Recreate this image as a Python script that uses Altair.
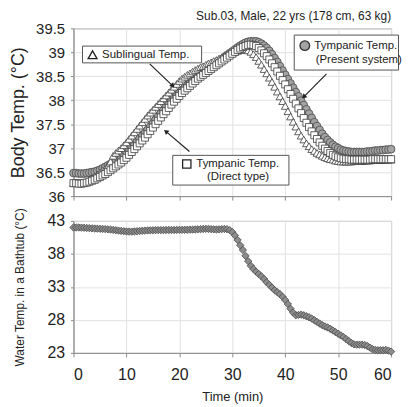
import altair as alt
import pandas as pd

FONT = "Liberation Sans"

# sampling grid (min)
time_min = [i * 0.5 for i in range(121)]

# Tympanic Temp. (Present system) - circles
present_system = [
    36.48, 36.48, 36.47, 36.47, 36.47, 36.48, 36.49, 36.50, 36.51, 36.53,
    36.55, 36.58, 36.61, 36.64, 36.67, 36.70, 36.74, 36.78, 36.83, 36.88,
    36.93, 36.98, 37.03, 37.08, 37.14, 37.20, 37.26, 37.32, 37.38, 37.45,
    37.52, 37.59, 37.66, 37.73, 37.80, 37.87, 37.94, 38.00, 38.06, 38.11,
    38.16, 38.21, 38.26, 38.31, 38.36, 38.41, 38.45, 38.49, 38.53, 38.57,
    38.61, 38.65, 38.69, 38.73, 38.77, 38.81, 38.85, 38.90, 38.94, 38.98,
    39.02, 39.06, 39.10, 39.14, 39.17, 39.20, 39.22, 39.23, 39.23, 39.23,
    39.21, 39.18, 39.14, 39.09, 39.03, 38.96, 38.88, 38.80, 38.71, 38.62,
    38.53, 38.44, 38.35, 38.26, 38.17, 38.08, 37.99, 37.90, 37.81, 37.72,
    37.63, 37.54, 37.46, 37.38, 37.30, 37.23, 37.17, 37.12, 37.07, 37.03,
    37.00, 36.97, 36.95, 36.94, 36.93, 36.92, 36.92, 36.92, 36.92, 36.92,
    36.92, 36.93, 36.93, 36.94, 36.95, 36.95, 36.96, 36.96, 36.97, 36.97,
    36.98,
]

# Sublingual Temp. - triangles
sublingual = [
    36.27, 36.27, 36.27, 36.28, 36.29, 36.31, 36.34, 36.37, 36.41, 36.45,
    36.49, 36.53, 36.57, 36.62, 36.72, 36.84, 36.90, 36.95, 37.00, 37.06,
    37.12, 37.19, 37.26, 37.33, 37.40, 37.47, 37.54, 37.61, 37.68, 37.74,
    37.80, 37.86, 37.92, 37.98, 38.04, 38.10, 38.16, 38.22, 38.28, 38.34,
    38.40, 38.45, 38.49, 38.53, 38.56, 38.60, 38.63, 38.66, 38.69, 38.71,
    38.74, 38.77, 38.79, 38.82, 38.84, 38.87, 38.89, 38.92, 38.94, 38.96,
    38.98, 39.01, 39.03, 39.05, 39.06, 39.06, 39.04, 39.01, 38.96, 38.90,
    38.82, 38.74, 38.65, 38.56, 38.47, 38.38, 38.28, 38.18, 38.08, 37.98,
    37.88, 37.77, 37.66, 37.55, 37.45, 37.35, 37.26, 37.18, 37.10, 37.04,
    36.98, 36.94, 36.90, 36.87, 36.84, 36.81, 36.79, 36.77, 36.76, 36.74,
    36.73, 36.72, 36.72, 36.72, 36.72, 36.72, 36.73, 36.73, 36.73, 36.73,
    36.74, 36.74, 36.74, 36.75, 36.75, 36.75, 36.75, 36.76, 36.76, 36.76,
    36.76,
]

# Tympanic Temp. (Direct type) - squares
direct_type = [
    36.27, 36.27, 36.26, 36.26, 36.27, 36.28, 36.30, 36.32, 36.34, 36.37,
    36.40, 36.43, 36.46, 36.50, 36.54, 36.58, 36.62, 36.66, 36.70, 36.75,
    36.80, 36.86, 36.92, 36.98, 37.04, 37.10, 37.16, 37.22, 37.29, 37.36,
    37.43, 37.50, 37.57, 37.64, 37.71, 37.77, 37.84, 37.91, 37.97, 38.03,
    38.09, 38.15, 38.20, 38.25, 38.30, 38.35, 38.40, 38.45, 38.49, 38.53,
    38.57, 38.61, 38.65, 38.69, 38.73, 38.77, 38.81, 38.85, 38.89, 38.93,
    38.97, 39.01, 39.05, 39.08, 39.11, 39.13, 39.15, 39.16, 39.15, 39.13,
    39.09, 39.04, 38.98, 38.92, 38.85, 38.77, 38.69, 38.60, 38.51, 38.42,
    38.33, 38.23, 38.13, 38.03, 37.93, 37.83, 37.73, 37.63, 37.53, 37.44,
    37.35, 37.27, 37.19, 37.12, 37.05, 36.99, 36.94, 36.90, 36.86, 36.83,
    36.81, 36.79, 36.78, 36.77, 36.77, 36.76, 36.76, 36.76, 36.76, 36.76,
    36.76, 36.76, 36.76, 36.77, 36.77, 36.77, 36.77, 36.77, 36.77, 36.77,
    36.77,
]

# Water temperature in the bathtub - diamonds
water_temp = [
    42.00, 42.00, 42.00, 41.98, 41.96, 41.93, 41.90, 41.87, 41.84, 41.82,
    41.80, 41.78, 41.75, 41.72, 41.68, 41.63, 41.58, 41.53, 41.48, 41.44,
    41.40, 41.38, 41.38, 41.40, 41.43, 41.47, 41.50, 41.53, 41.55, 41.57,
    41.58, 41.60, 41.60, 41.61, 41.61, 41.62, 41.62, 41.62, 41.62, 41.63,
    41.63, 41.64, 41.65, 41.66, 41.67, 41.68, 41.70, 41.72, 41.75, 41.78,
    41.80, 41.78, 41.75, 41.72, 41.70, 41.72, 41.75, 41.78, 41.75, 41.60,
    41.30, 40.80, 40.10, 39.30, 38.60, 37.70, 36.90, 36.20, 35.70, 35.30,
    34.95, 34.60, 34.20, 33.70, 33.30, 32.90, 32.50, 32.20, 31.90, 31.50,
    31.00, 30.40, 29.70, 29.10, 28.70, 28.75, 28.80, 28.70, 28.55, 28.40,
    28.20, 27.95, 27.70, 27.45, 27.20, 27.00, 26.85, 26.65, 26.40, 26.15,
    25.90, 25.65, 25.40, 25.10, 24.80, 24.50, 24.30, 24.25, 24.25, 24.25,
    24.20, 24.05, 23.80, 23.55, 23.45, 23.40, 23.40, 23.40, 23.45, 23.35,
    23.20,
]

body_ticks = [36, 36.5, 37, 37.5, 38, 38.5, 39, 39.5]
water_ticks = [23, 28, 33, 38, 43]
time_ticks = [0, 10, 20, 30, 40, 50, 60]

subtitle = "Sub.03, Male, 22 yrs (178 cm, 63 kg)"

# annotation boxes (in data units: time, °C)
box_t = [1.7, 18.75, 41.7]
box_t2 = [24.2, 40.7, 61.4]
box_v = [39.13, 36.85, 39.36]
box_v2 = [38.78, 36.23, 38.63]

label_left_text = ["Sublingual Temp.", "Tympanic Temp.", "Tympanic Temp."]
label_left_t = [5.4, 23.2, 45.5]
label_left_v = [38.95, 36.67, 39.14]

label_center_text = ["(Direct type)", "(Present system)"]
label_center_t = [31.1, 53.9]
label_center_v = [36.40, 38.83]

sym_t = [3.6, 21.4, 43.7]
sym_v = [38.95, 36.67, 39.14]

arrow_t = [14.4, 21.9, 47.8]
arrow_v = [38.76, 36.93, 38.55]
arrow_t2 = [18.75, 17.45, 43.5]
arrow_v2 = [38.30, 37.35, 38.07]
arrow_angle = [136, 310, 225]

# ---------------- data frames ----------------
df_present = pd.DataFrame({"t": time_min, "v": present_system})
df_subl = pd.DataFrame({"t": time_min, "v": sublingual})
df_direct = pd.DataFrame({"t": time_min, "v": direct_type})
df_water = pd.DataFrame({"t": time_min, "v": water_temp})
df_box = pd.DataFrame({"t": box_t, "t2": box_t2, "v": box_v, "v2": box_v2})
df_lab_l = pd.DataFrame({"t": label_left_t, "v": label_left_v, "txt": label_left_text})
df_lab_c = pd.DataFrame({"t": label_center_t, "v": label_center_v, "txt": label_center_text})
df_arrow = pd.DataFrame({"t": arrow_t, "v": arrow_v, "t2": arrow_t2, "v2": arrow_v2, "ang": arrow_angle})
df_tip = pd.DataFrame({"t": arrow_t2, "v": arrow_v2, "ang": arrow_angle})
df_sym_tri = pd.DataFrame({"t": sym_t[:1], "v": sym_v[:1]})
df_sym_sq = pd.DataFrame({"t": sym_t[1:2], "v": sym_v[1:2]})
df_sym_ci = pd.DataFrame({"t": sym_t[2:], "v": sym_v[2:]})

# ---------------- encodings ----------------
X_TOP = alt.X("t:Q", scale=alt.Scale(domain=[0, 60], nice=False),
              axis=alt.Axis(values=time_ticks, labels=False, title=None,
                            tickSize=4, grid=True))
Y_TOP = alt.Y("v:Q", scale=alt.Scale(domain=[36, 39.5], nice=False, zero=False),
              axis=alt.Axis(values=body_ticks, labelExpr="'' + datum.value",
                            title="Body Temp. (°C)", titleFontSize=18,
                            labelFontSize=15, tickSize=3, labelPadding=6,
                            titlePadding=8, grid=True))

X_BOT = alt.X("t:Q", scale=alt.Scale(domain=[0, 60], nice=False),
              axis=alt.Axis(values=time_ticks, title="Time (min)", titleFontSize=13,
                            labelFontSize=16, tickSize=4, labelPadding=10,
                            titlePadding=8, grid=True))
Y_BOT = alt.Y("v:Q", scale=alt.Scale(domain=[23, 43], nice=False, zero=False),
              axis=alt.Axis(values=water_ticks, title="Water Temp. in a Bathtub (°C)",
                            titleFontSize=12, labelFontSize=16, tickSize=3,
                            labelPadding=6, titlePadding=21, grid=True))

ANN_SIZE = 11.5

# ---------------- top panel ----------------
circles = alt.Chart(df_present).mark_point(
    shape="circle", filled=True, fill="#a3a3a3", stroke="#4a4a4a",
    strokeWidth=0.8, size=62, opacity=1).encode(x=X_TOP, y=Y_TOP)
triangles = alt.Chart(df_subl).mark_point(
    shape="triangle-up", filled=True, fill="white", stroke="#3a3a3a",
    strokeWidth=0.8, size=60, opacity=1).encode(x=X_TOP, y=Y_TOP)
squares = alt.Chart(df_direct).mark_point(
    shape="square", filled=True, fill="white", stroke="#3a3a3a",
    strokeWidth=0.8, size=50, opacity=1).encode(x=X_TOP, y=Y_TOP)

boxes = alt.Chart(df_box).mark_rect(
    fill="white", stroke="#555555", strokeWidth=1, clip=False).encode(
    x=X_TOP, x2="t2:Q", y=Y_TOP, y2="v2:Q")
lab_l = alt.Chart(df_lab_l).mark_text(
    align="left", baseline="middle", font=FONT, fontSize=ANN_SIZE, color="#222222",
    clip=False).encode(x=X_TOP, y=Y_TOP, text="txt:N")
lab_c = alt.Chart(df_lab_c).mark_text(
    align="center", baseline="middle", font=FONT, fontSize=ANN_SIZE, color="#222222",
    clip=False).encode(x=X_TOP, y=Y_TOP, text="txt:N")
sym_tri = alt.Chart(df_sym_tri).mark_point(
    shape="triangle-up", filled=True, fill="white", stroke="#222222",
    strokeWidth=1.3, size=80, opacity=1).encode(x=X_TOP, y=Y_TOP)
sym_sq = alt.Chart(df_sym_sq).mark_point(
    shape="square", filled=True, fill="white", stroke="#222222",
    strokeWidth=1.3, size=70, opacity=1).encode(x=X_TOP, y=Y_TOP)
sym_ci = alt.Chart(df_sym_ci).mark_point(
    shape="circle", filled=True, fill="#a3a3a3", stroke="#333333",
    strokeWidth=1.3, size=95, opacity=1).encode(x=X_TOP, y=Y_TOP)
arrows = alt.Chart(df_arrow).mark_rule(color="#222222", strokeWidth=1.2).encode(
    x=X_TOP, x2="t2:Q", y=Y_TOP, y2="v2:Q")
tips = alt.Chart(df_tip).mark_point(
    shape="triangle-up", filled=True, color="#222222", size=30, opacity=1).encode(
    x=X_TOP, y=Y_TOP, angle=alt.Angle("ang:Q", scale=None))

top = alt.layer(circles, triangles, squares, arrows, tips, boxes, lab_l, lab_c,
                sym_tri, sym_sq, sym_ci).properties(
    width=320, height=169,
    title=alt.TitleParams(text=subtitle, anchor="end", frame="group", fontSize=12,
                          fontWeight="normal", font=FONT, color="#222222", offset=-2))

# ---------------- bottom panel ----------------
diamonds = alt.Chart(df_water).mark_point(
    shape="diamond", filled=True, fill="#8c8c8c", stroke="#4a4a4a",
    strokeWidth=0.8, size=55, opacity=1).encode(x=X_BOT, y=Y_BOT)

bottom = diamonds.properties(width=320, height=133)

chart = alt.vconcat(top, bottom, spacing=25, bounds="flush").properties(
    padding={"top": 0, "left": 1, "right": 0, "bottom": 0}
).configure_view(
    stroke="#8a8a8a", strokeWidth=1
).configure_axis(
    domainColor="#8a8a8a", tickColor="#8a8a8a", gridColor="#e2e2e2",
    labelColor="#222222", titleColor="#222222", labelFont=FONT, titleFont=FONT,
    titleFontWeight="normal"
).configure_title(font=FONT)

chart.save("out.html", embed_options={"renderer": "svg", "actions": False})
